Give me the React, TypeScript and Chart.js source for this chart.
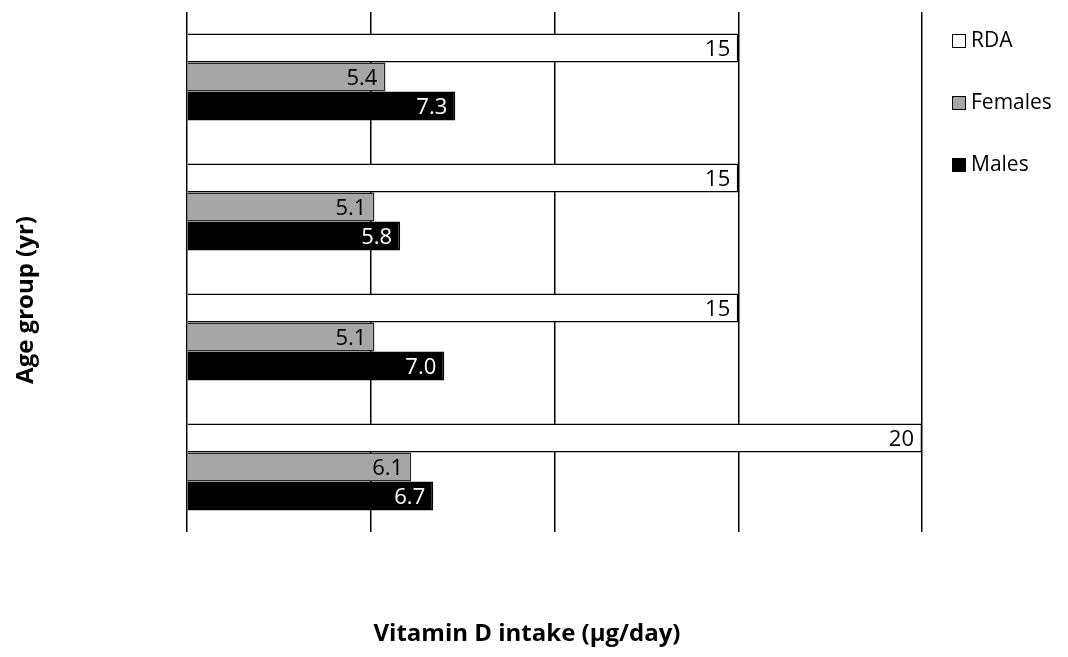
import React, { useEffect, useRef } from "react";
import { Chart, registerables } from "chart.js";

Chart.register(...registerables);

const categories = ["19–30", "31–50", "51–70", ">70"];
const rdaValues = [15, 15, 15, 20];
const femaleValues = [5.4, 5.1, 5.1, 6.1];
const maleValues = [7.3, 5.8, 7.0, 6.7];
const xTicks = [0, 5, 10, 15, 20];
const seriesNames = ["RDA", "Females", "Males"];
const labelDecimals = [0, 1, 1];
const labelColors = ["#000000", "#000000", "#ffffff"];

const FONT = "'Open Sans', 'Liberation Sans', sans-serif";

const labelPlugin = {
  id: "barLabels",
  afterDatasetsDraw(chart: any) {
    const ctx = chart.ctx;
    ctx.save();
    ctx.font = `22px ${FONT}`;
    ctx.textAlign = "right";
    ctx.textBaseline = "middle";
    chart.data.datasets.forEach((ds: any, i: number) => {
      const meta = chart.getDatasetMeta(i);
      meta.data.forEach((el: any, j: number) => {
        const v = ds.data[j];
        ctx.fillStyle = labelColors[i];
        ctx.fillText(v.toFixed(labelDecimals[i]), el.x - 8, el.y + 2);
      });
    });
    ctx.restore();
  },
};

const decorPlugin = {
  id: "decor",
  afterDraw(chart: any) {
    const ctx = chart.ctx;
    ctx.save();
    // legend
    chart.data.datasets.forEach((ds: any, i: number) => {
      const cy = 41 + i * 62;
      ctx.fillStyle = ds.backgroundColor;
      ctx.fillRect(952.5, cy - 6.5, 13, 13);
      ctx.strokeStyle = "#000";
      ctx.lineWidth = 1;
      ctx.strokeRect(952.5, cy - 6.5, 13, 13);
      ctx.fillStyle = "#000";
      ctx.font = `21px ${FONT}`;
      ctx.textAlign = "left";
      ctx.textBaseline = "middle";
      ctx.fillText(ds.label, 971, cy);
    });
    // axis titles
    ctx.font = `bold 24px ${FONT}`;
    ctx.fillStyle = "#000";
    ctx.textAlign = "center";
    ctx.textBaseline = "middle";
    ctx.fillText("Vitamin D intake (µg/day)", 527, 634);
    ctx.translate(26, 300);
    ctx.rotate(-Math.PI / 2);
    ctx.fillText("Age group (yr)", 0, 0);
    ctx.restore();
  },
};

export default function App() {
  const ref = useRef<HTMLCanvasElement | null>(null);
  useEffect(() => {
    if (!ref.current) return;
    const chart = new Chart(ref.current, {
      type: "bar",
      data: {
        labels: categories,
        datasets: [
          {
            label: seriesNames[0],
            data: rdaValues,
            backgroundColor: "#ffffff",
            borderColor: "#000000",
            borderWidth: 1.5,
          },
          {
            label: seriesNames[1],
            data: femaleValues,
            backgroundColor: "#a6a6a6",
            borderColor: "#262626",
            borderWidth: 1.5,
          },
          {
            label: seriesNames[2],
            data: maleValues,
            backgroundColor: "#000000",
            borderColor: "#000000",
            borderWidth: 1.5,
          },
        ] as any,
      },
      options: {
        indexAxis: "y",
        responsive: false,
        animation: false,
        layout: { padding: { left: 187, right: 146, top: 12, bottom: 125 } },
        datasets: { bar: { barPercentage: 1, categoryPercentage: 0.67 } } as any,
        plugins: { legend: { display: false }, tooltip: { enabled: false } },
        scales: {
          x: {
            min: xTicks[0],
            max: xTicks[xTicks.length - 1],
            afterBuildTicks: (s: any) => {
              s.ticks = xTicks.map((v) => ({ value: v }));
            },
            ticks: { display: false },
            grid: { color: "#000000", lineWidth: 1.5, drawTicks: false },
            border: { display: false },
          },
          y: {
            ticks: { display: false },
            grid: { display: false, drawTicks: false },
            border: { display: false },
          },
        },
      },
      plugins: [labelPlugin, decorPlugin],
    });
    return () => chart.destroy();
  }, []);
  return (
    <div style={{ position: "absolute", left: 0, top: 0, width: 1068, height: 657, background: "#fff" }}>
      <canvas ref={ref} width={1068} height={657} />
    </div>
  );
}
